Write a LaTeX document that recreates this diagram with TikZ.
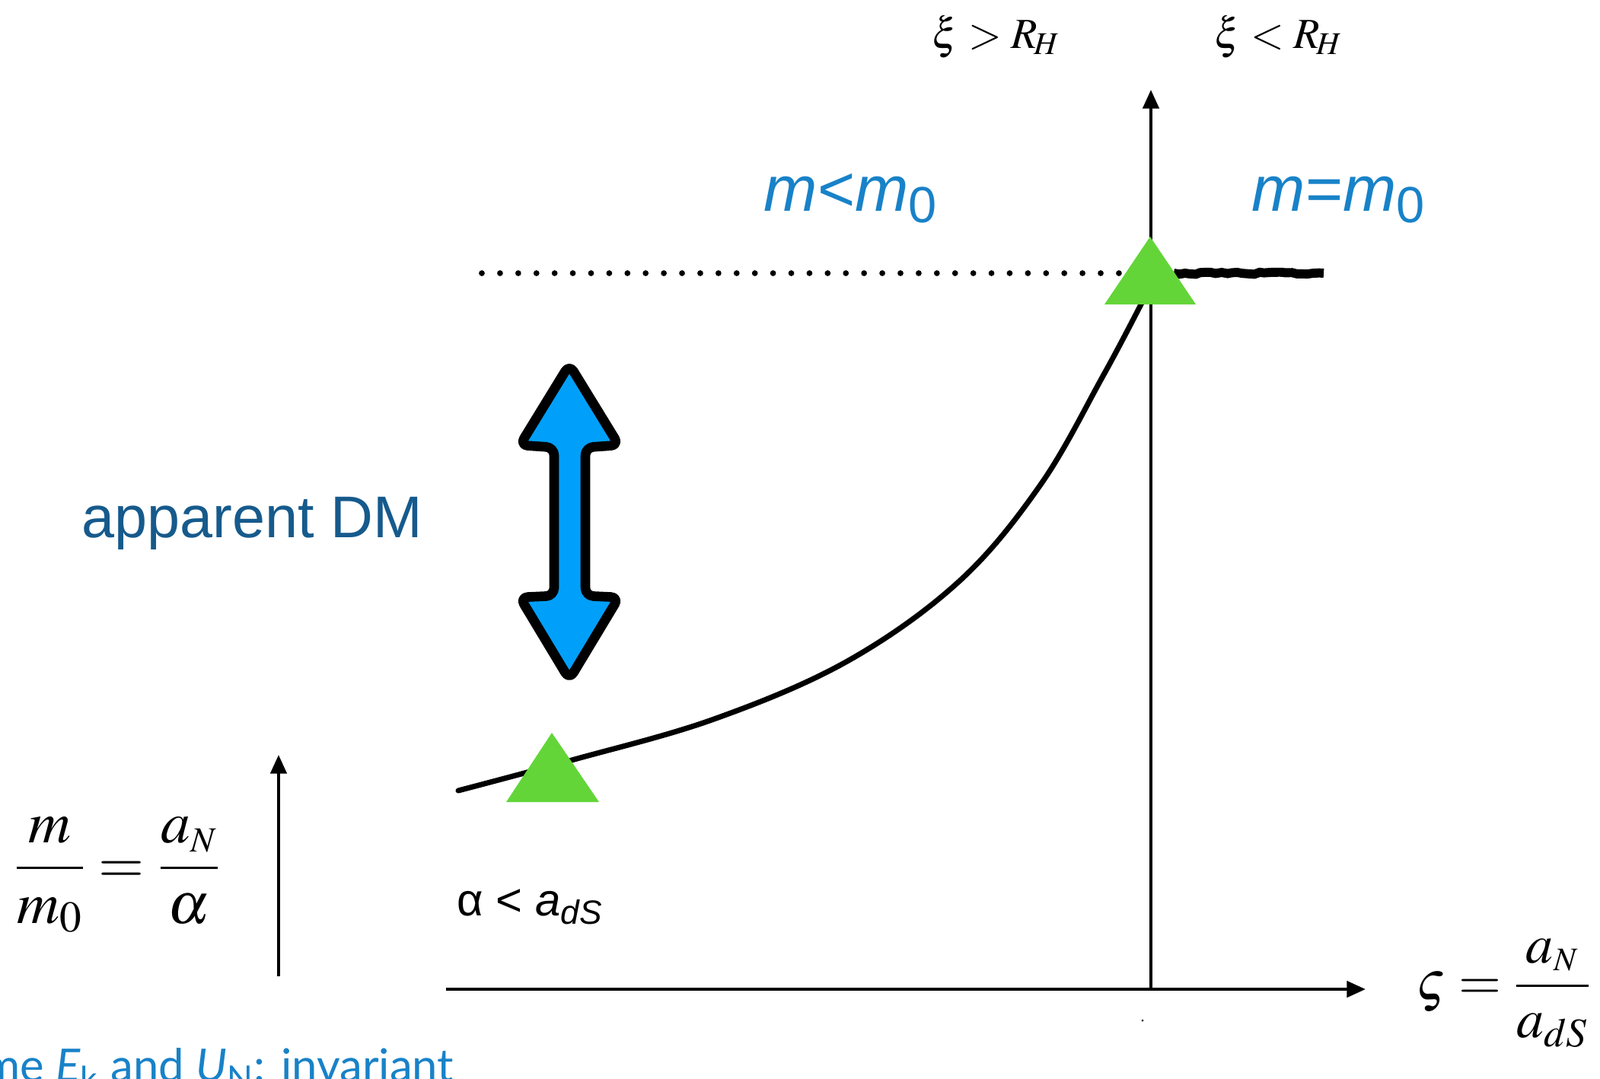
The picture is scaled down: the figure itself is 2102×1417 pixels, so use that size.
\documentclass[tikz,border=0pt]{standalone}
\usepackage{mathptmx}
\usepackage[no-math]{fontspec}
\setmainfont{Liberation Sans}
\newfontfamily\latofont{Lato}
\usetikzlibrary{arrows.meta,decorations.pathmorphing}

\definecolor{dmblue}{RGB}{22,90,140}
\definecolor{massblue}{RGB}{24,130,200}
\definecolor{arrowblue}{RGB}{0,160,250}
\definecolor{markgreen}{RGB}{99,213,57}

\begin{document}
\begin{tikzpicture}[
    x=0.01cm, y=-0.01cm,
    axis/.style={
        line width=1.2pt,
        -{Triangle[length=7pt,width=6pt]}
    },
    masslabel/.style={
        font=\fontsize{24}{28}\selectfont,
        text=massblue,
        inner sep=0pt
    },
    mathlabel/.style={
        font=\fontsize{16}{20}\selectfont,
        inner sep=0pt
    },
    formula/.style={
        font=\fontsize{22}{26}\selectfont,
        inner sep=0pt
    },
    curve/.style={
        line width=2pt,
        line cap=round,
        black
    },
    marker/.style={
        fill=markgreen
    },
    dmarrow/.style={
        draw=black,
        fill=arrowblue,
        line width=3.6pt,
        rounded corners=3pt,
        line join=round
    }
]
\clip (0,0) rectangle (2102,1417);

% Axes
\coordinate (xstart) at (586,1300);
\coordinate (origin) at (1512,1300);
\coordinate (xend) at (1794,1300);
\coordinate (ytop) at (1512,118);
\draw[axis] (xstart) -- (xend);
\draw[axis] (origin) -- (ytop);
\fill (1501,1341) circle (1.5);

% Small arrow beside the ratio
\coordinate (mlow) at (366,1283);
\coordinate (mhigh) at (366,992);
\draw[axis] (mlow) -- (mhigh);

% Level m = m0
\coordinate (dotstart) at (633,359);
\coordinate (dotend) at (1478,359);
\coordinate (flatstart) at (1542,359);
\coordinate (flatend) at (1739,359);
\draw[line width=2.2pt, line cap=round, dash pattern=on 0pt off 6.8pt] (dotstart) -- (dotend);
\draw[line width=3.4pt, decorate,
    decoration={random steps, segment length=2pt, amplitude=0.4pt}] (flatstart) -- (flatend);

% Mass curve
\draw[curve] plot[smooth, tension=0.6] coordinates {
    (602,1039) (751,999) (938,945) (1113,869) (1260,764)
    (1367,637) (1448,496) (1499,400) (1508,380)};

% Green markers
\fill[marker] (1451,400) -- (1511,311) -- (1571,400) -- cycle;
\fill[marker] (665,1054) -- (725,963) -- (787,1054) -- cycle;

% Apparent DM arrow
\draw[dmarrow] (748,479) -- (813,585) -- (769,588) -- (769,783) -- (813,785)
    -- (748,893) -- (683,785) -- (728,783) -- (728,588) -- (683,585) -- cycle;

% Labels
\node[masslabel, anchor=base west] (mless) at (1003,277)
    {\textit{m}<\textit{m}\raisebox{-0.35ex}{\fontsize{19}{19}\selectfont 0}};
\node[masslabel, anchor=base west] (mequal) at (1644,277)
    {\textit{m}=\textit{m}\raisebox{-0.35ex}{\fontsize{19}{19}\selectfont 0}};
\node[anchor=base west, inner sep=0pt, text=dmblue,
    font=\fontsize{22}{26}\selectfont] (dmlabel) at (107,706) {apparent DM};
\node[mathlabel, anchor=base west] (xigt) at (1224,63) {$\xi > R_{\!H}$};
\node[mathlabel, anchor=base west] (xilt) at (1595,63) {$\xi < R_{\!H}$};
\node[anchor=base west, inner sep=0pt, font=\fontsize{17}{20}\selectfont]
    (alphalabel) at (600,1203) {α < \textit{a}\textsubscript{\textit{dS}}};
\node[formula] (ratio) at (154,1150)
    {$\displaystyle \frac{m}{m_0} = \frac{a_{\scriptscriptstyle N}}{\alpha}$};
\node[formula, anchor=west, font=\fontsize{20.5}{24}\selectfont] (zeta) at (1860,1305)
    {$\displaystyle \varsigma = \frac{a_{\scriptscriptstyle N}}{a_{dS}}$};
\node[anchor=base east, inner sep=0pt, text=massblue,
    font=\latofont\fontsize{17}{20}\selectfont] (invariant) at (597,1421)
    {Same \textit{E}\textsubscript{k} and \textit{U}\textsubscript{N}: invariant};

\end{tikzpicture}
\end{document}
